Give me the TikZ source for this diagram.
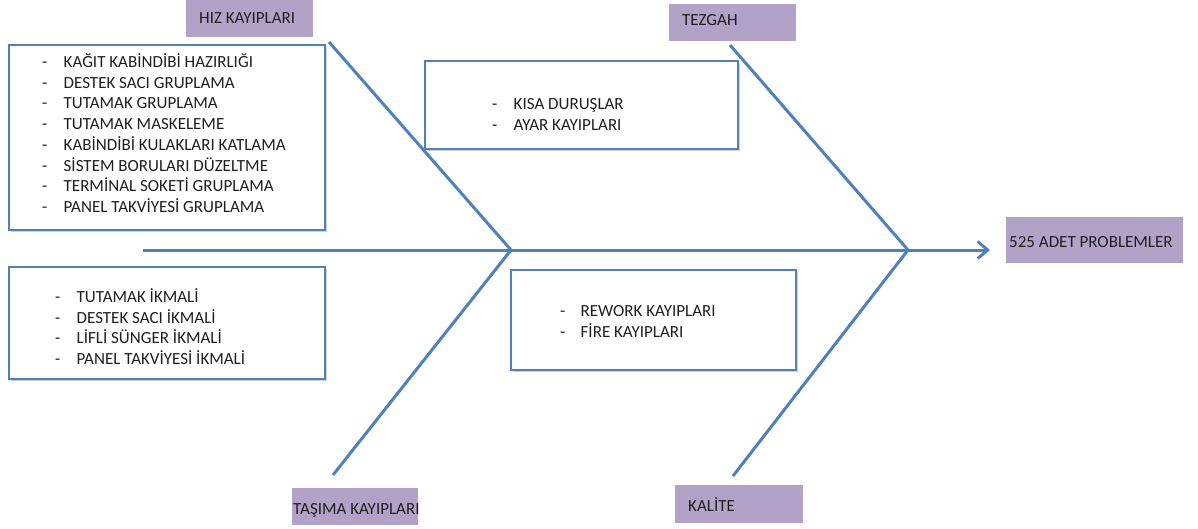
\documentclass[tikz,border=0pt]{standalone}
\usepackage{fontspec}
\setmainfont{Carlito}
\usetikzlibrary{arrows.meta,shadows}
\definecolor{bone}{HTML}{4F81BD}
\definecolor{catfill}{HTML}{B3A2C7}
\definecolor{ink}{HTML}{1F1F1F}
\tikzset{
  bonestyle/.style={draw=bone, line width=3pt},
  causebox/.style={rectangle, draw=bone, line width=1.6pt, fill=white, inner sep=0pt,
    drop shadow={shadow xshift=1.5pt, shadow yshift=-2pt, fill=black, opacity=0.18}},
  catbox/.style={rectangle, fill=catfill, inner sep=0pt},
  txt/.style={font=\fontsize{17}{20}\selectfont, text=ink, inner sep=0pt, anchor=base west},
}
\newcommand{\itemline}[1]{\makebox[21.5pt][l]{-}#1}
\begin{document}
\begin{tikzpicture}[x=1pt,y=-1pt]
\useasboundingbox (0,0) rectangle (1198,528);

% skeleton points
\coordinate (tail) at (143,250);
\coordinate (head) at (990,250);
\coordinate (j1) at (511,250);
\coordinate (j2) at (908,250);
\coordinate (b1) at (329,42);
\coordinate (b2) at (333,475);
\coordinate (b3) at (730,45);
\coordinate (b4) at (733,476);

% cause boxes
\node[causebox, minimum width=316pt, minimum height=185pt] (hizbox) at (167,137.5) {};
\node[causebox, minimum width=316pt, minimum height=112pt] (tasbox) at (167,323) {};
\node[causebox, minimum width=313pt, minimum height=88pt] (tezbox) at (581.5,105) {};
\node[causebox, minimum width=285pt, minimum height=100pt] (kalbox) at (653.5,320) {};

% spine and bones
\draw[bonestyle, -{Straight Barb[length=10pt,width=17pt]}] (tail) -- (head);
\draw[bonestyle] (b1) -- (j1);
\draw[bonestyle] (j1) -- (b2);
\draw[bonestyle] (b3) -- (j2);
\draw[bonestyle] (j2) -- (b4);

% category labels
\node[catbox, minimum width=127pt, minimum height=37pt] (hizcat) at (249.5,18.5) {};
\node[txt] (hizlbl) at (199,23.5) {HIZ KAYIPLARI};
\node[catbox, minimum width=127pt, minimum height=37pt] (tezcat) at (732.5,22.5) {};
\node[txt] (tezlbl) at (682,25) {TEZGAH};
\node[catbox, minimum width=128pt, minimum height=38pt] (kalcat) at (739,504) {};
\node[txt] (kallbl) at (688,511.5) {KALİTE};
\node[catbox, minimum width=126pt, minimum height=37pt] (tascat) at (355,506.5) {};
\node[txt] (taslbl) at (293,514.5) {TAŞIMA KAYIPLARI};
\node[catbox, minimum width=177pt, minimum height=46pt] (effect) at (1094.5,240) {};
\node[txt] (effectlbl) at (1009,247) {525 ADET PROBLEMLER};

% speed losses
\node[txt] (h1) at (42,67.5)  {\itemline{KAĞIT KABİNDİBİ HAZIRLIĞI}};
\node[txt] (h2) at (42,88.2)  {\itemline{DESTEK SACI GRUPLAMA}};
\node[txt] (h3) at (42,108.9) {\itemline{TUTAMAK GRUPLAMA}};
\node[txt] (h4) at (42,129.6) {\itemline{TUTAMAK MASKELEME}};
\node[txt] (h5) at (42,150.3) {\itemline{KABİNDİBİ KULAKLARI KATLAMA}};
\node[txt] (h6) at (42,171.0) {\itemline{SİSTEM BORULARI DÜZELTME}};
\node[txt] (h7) at (42,191.7) {\itemline{TERMİNAL SOKETİ GRUPLAMA}};
\node[txt] (h8) at (42,212.4) {\itemline{PANEL TAKVİYESİ GRUPLAMA}};

% transport losses
\node[txt] (t1) at (55,302.5) {\itemline{TUTAMAK İKMALİ}};
\node[txt] (t2) at (55,323.2) {\itemline{DESTEK SACI İKMALİ}};
\node[txt] (t3) at (55,343.9) {\itemline{LİFLİ SÜNGER İKMALİ}};
\node[txt] (t4) at (55,364.6) {\itemline{PANEL TAKVİYESİ İKMALİ}};

% workbench losses
\node[txt] (z1) at (492,109.5) {\itemline{KISA DURUŞLAR}};
\node[txt] (z2) at (492,130.5) {\itemline{AYAR KAYIPLARI}};

% quality losses
\node[txt] (k1) at (560,316.5) {\makebox[20.5pt][l]{-}REWORK KAYIPLARI};
\node[txt] (k2) at (560,337.5) {\makebox[20.5pt][l]{-}FİRE KAYIPLARI};
\end{tikzpicture}
\end{document}
